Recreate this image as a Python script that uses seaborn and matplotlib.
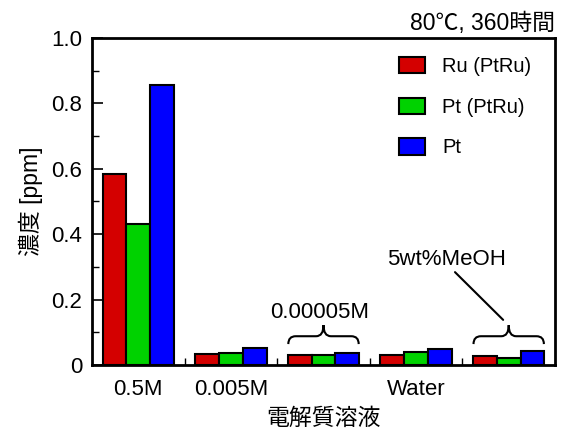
import matplotlib
matplotlib.use("Agg")
import matplotlib.pyplot as plt
from matplotlib import font_manager
from matplotlib.path import Path
from matplotlib.patches import PathPatch, Patch
from matplotlib.ticker import MultipleLocator, FixedLocator
import seaborn as sns
import pandas as pd

conditions = ["0.5M", "0.005M", "0.00005M", "Water", "5wt%MeOH"]
tick_labels = ["0.5M", "0.005M", "", "Water", ""]
series = ["Ru (PtRu)", "Pt (PtRu)", "Pt"]
ru_ptru = [0.585, 0.035, 0.031, 0.032, 0.027]
pt_ptru = [0.432, 0.037, 0.032, 0.039, 0.021]
pt = [0.855, 0.053, 0.038, 0.049, 0.043]
colors = ["#d40000", "#00d200", "#0000ff"]

rows = []
for name, vals in zip(series, [ru_ptru, pt_ptru, pt]):
    for c, v in zip(conditions, vals):
        rows.append({"cond": c, "val": v, "metal": name})
df = pd.DataFrame(rows)

sns.set_style("ticks")
plt.rcParams["font.family"] = ["Liberation Sans", "Noto Sans CJK JP", "DejaVu Sans"]
FS = 16
plt.rcParams["font.size"] = FS
for k in ["text.color", "axes.labelcolor", "xtick.color", "ytick.color"]:
    plt.rcParams[k] = "black"

leg_prop = font_manager.FontProperties(family="Liberation Sans", size=14.5)

fig = plt.figure(figsize=(5.65, 4.33), dpi=100)
ax = fig.add_axes([92 / 565, 68 / 433, 463 / 565, 327 / 433])

sns.barplot(data=df, x="cond", y="val", hue="metal", order=conditions,
            hue_order=series, palette=colors, edgecolor="black",
            linewidth=1.5, width=0.77, saturation=1, ax=ax, legend=False)

ax.set_xlim(-0.5, 4.5)
ax.set_ylim(0, 1.0)
ax.yaxis.set_minor_locator(MultipleLocator(0.1))
ax.set_yticks([0, 0.2, 0.4, 0.6, 0.8, 1.0])
ax.set_yticklabels(["0", "0.2", "0.4", "0.6", "0.8", "1.0"])
ax.set_xticks(range(len(conditions)))
ax.set_xticklabels(tick_labels)
ax.xaxis.set_minor_locator(FixedLocator([0.5, 1.5, 2.5, 3.5]))
ax.tick_params(axis="y", which="major", direction="in", length=8, width=1.2,
               labelsize=FS, pad=7)
ax.tick_params(axis="y", which="minor", direction="in", length=5, width=1.0)
ax.tick_params(axis="x", which="major", length=0, labelsize=FS, pad=10)
ax.tick_params(axis="x", which="minor", direction="in", length=5, width=1.0)
for s in ax.spines.values():
    s.set_linewidth(2)
    s.set_color("black")

ax.set_xlabel("電解質溶液", fontsize=16.5, labelpad=5)
ax.set_ylabel("濃度 [ppm]", fontsize=16.5, labelpad=6)
ax.set_title("80℃, 360時間", loc="right", fontsize=16.5, pad=6)

handles = [Patch(facecolor=c, edgecolor="black", linewidth=1.5) for c in colors]
ax.legend(handles, series, loc="upper left", bbox_to_anchor=(0.663, 0.942),
          frameon=False, prop=leg_prop, handlelength=1.3, handleheight=0.85,
          labelspacing=1.08, handletextpad=0.85, borderpad=0, borderaxespad=0)


def brace(ax, xc, half, y_end, y_mid, y_peak, r=0.08):
    x0, x1 = xc - half, xc + half
    verts = [(x0, y_end), (x0, y_mid), (x0 + r, y_mid),
             (xc - r, y_mid), (xc, y_mid), (xc, y_peak),
             (xc, y_peak), (xc, y_mid), (xc + r, y_mid),
             (x1 - r, y_mid), (x1, y_mid), (x1, y_end)]
    codes = [Path.MOVETO, Path.CURVE3, Path.CURVE3,
             Path.LINETO, Path.CURVE3, Path.CURVE3,
             Path.MOVETO, Path.CURVE3, Path.CURVE3,
             Path.LINETO, Path.CURVE3, Path.CURVE3]
    ax.add_patch(PathPatch(Path(verts, codes), facecolor="none",
                           edgecolor="black", linewidth=1.5))


brace(ax, 2.0, 0.38, 0.064, 0.088, 0.122)
brace(ax, 4.0, 0.38, 0.064, 0.088, 0.122)
ax.text(1.96, 0.162, "0.00005M", ha="center", va="center", fontsize=16)
ax.plot([3.42, 3.94], [0.284, 0.138], color="black", linewidth=1.5)
ax.text(3.33, 0.324, "5wt%MeOH", ha="center", va="center", fontsize=16)

fig.savefig("out.png", dpi=100)
